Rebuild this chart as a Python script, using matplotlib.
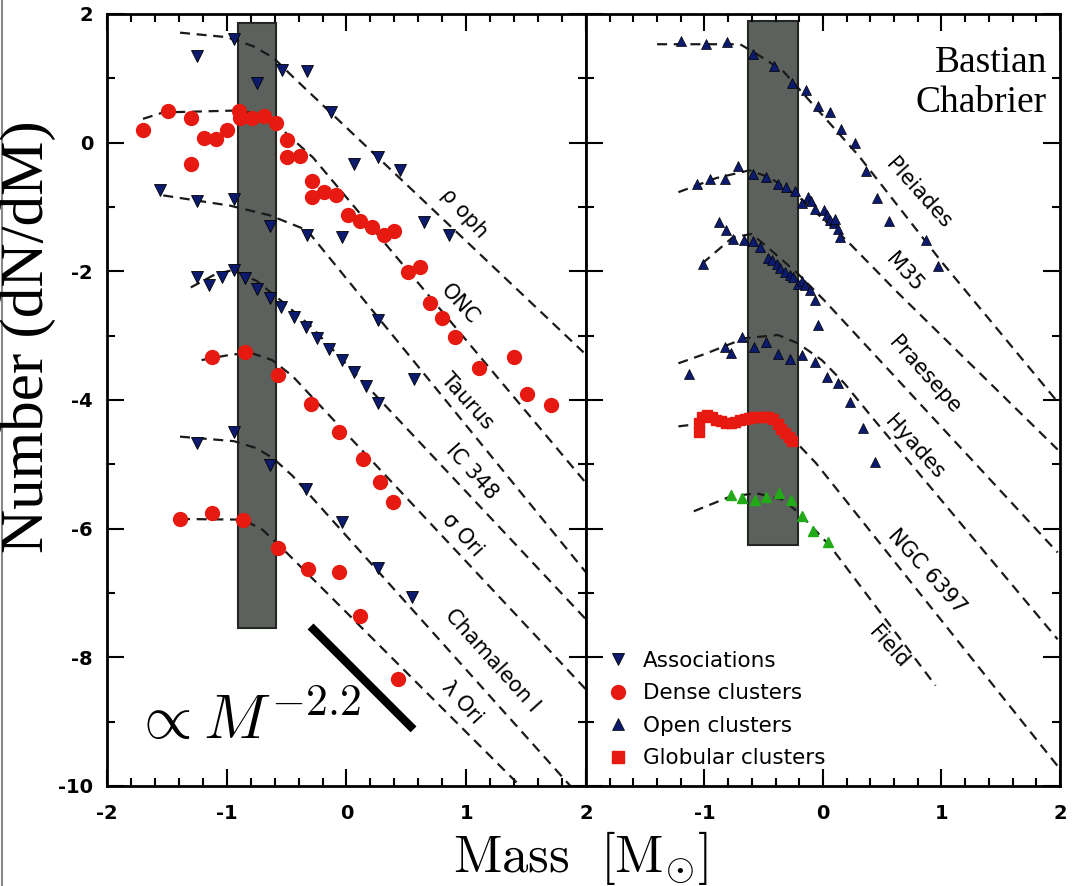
import matplotlib
matplotlib.use('Agg')
import matplotlib.pyplot as plt
from matplotlib.lines import Line2D
from matplotlib.ticker import MultipleLocator

plt.rcParams['mathtext.fontset'] = 'cm'
plt.rcParams['axes.unicode_minus'] = False
plt.rcParams['font.family'] = 'DejaVu Sans'

# ---- left panel: associations (down triangles) ----
rho_oph_x = [-1.25, -0.94, -0.75, -0.54, -0.33, -0.13, 0.06, 0.26, 0.45, 0.65, 0.86]
rho_oph_y = [1.35, 1.61, 0.93, 1.13, 1.12, 0.47, -0.33, -0.23, -0.43, -1.24, -1.44]
taurus_x = [-1.56, -1.25, -0.94, -0.64, -0.33, -0.04, 0.26, 0.56]
taurus_y = [-0.74, -0.90, -0.87, -1.30, -1.44, -1.47, -2.76, -3.67]
ic348_x = [-1.25, -1.15, -1.04, -0.94, -0.85, -0.75, -0.64, -0.55, -0.44, -0.34,
           -0.25, -0.15, -0.04, 0.06, 0.16, 0.26]
ic348_y = [-2.09, -2.22, -2.09, -1.98, -2.11, -2.27, -2.41, -2.56, -2.71, -2.86,
           -3.04, -3.20, -3.38, -3.56, -3.79, -4.05]
cha_x = [-1.25, -0.94, -0.64, -0.34, -0.04, 0.26, 0.55]
cha_y = [-4.67, -4.49, -5.01, -5.38, -5.89, -6.61, -7.07]

# ---- left panel: dense clusters (circles) ----
onc_x = [-1.70, -1.49, -1.30, -1.19, -1.09, -1.00, -1.30, -0.90, -0.89, -0.79, -0.69,
         -0.59, -0.50, -0.50, -0.39, -0.29, -0.29, -0.19, -0.09, 0.01, 0.11, 0.21,
         0.31, 0.40, 0.51, 0.61, 0.70, 0.80, 0.91, 1.11, 1.40, 1.51, 1.71]
onc_y = [0.20, 0.49, 0.38, 0.08, 0.06, 0.20, -0.33, 0.49, 0.39, 0.38, 0.42,
         0.31, 0.04, -0.23, -0.21, -0.60, -0.85, -0.77, -0.82, -1.13, -1.22, -1.31,
         -1.44, -1.37, -2.01, -1.93, -2.50, -2.73, -3.02, -3.51, -3.33, -3.90, -4.08]
sig_ori_x = [-1.12, -0.85, -0.57, -0.30, -0.06, 0.14, 0.28, 0.39]
sig_ori_y = [-3.33, -3.25, -3.61, -4.06, -4.49, -4.91, -5.27, -5.58]
lam_ori_x = [-1.39, -1.12, -0.86, -0.57, -0.32, -0.06, 0.11, 0.43]
lam_ori_y = [-5.85, -5.76, -5.86, -6.30, -6.62, -6.67, -7.36, -8.33]

# ---- left panel: fitted curves (dashed) ----
fit_left = {
    'rho_oph': ([-1.39, -1.0, -0.78, -0.61, -0.44, 1.98], [1.71, 1.64, 1.50, 1.32, 1.01, -3.26]),
    'onc': ([-1.70, -1.53, -0.91, -0.66, -0.50, -0.28, 2.0], [0.37, 0.47, 0.50, 0.42, 0.14, -0.23, -5.29]),
    'taurus': ([-1.53, -1.25, -0.97, -0.64, -0.33, 2.0], [-0.82, -0.90, -0.98, -1.13, -1.36, -6.68]),
    'ic348': ([-1.30, -1.10, -0.95, -0.75, -0.55, -0.30, 2.0], [-2.25, -2.05, -1.98, -2.15, -2.45, -2.85, -7.41]),
    'sig_ori': ([-1.21, -0.95, -0.78, -0.62, -0.45, 2.0], [-3.38, -3.29, -3.28, -3.38, -3.63, -8.5]),
    'cha': ([-1.39, -0.94, -0.75, -0.61, -0.45, 1.87], [-4.57, -4.64, -4.75, -4.91, -5.18, -10.0]),
    'lam_ori': ([-1.39, -0.86, -0.70, -0.55, 1.45], [-5.85, -5.86, -6.02, -6.28, -10.0]),
}
labels_left = ['ρ oph', 'ONC', 'Taurus', 'IC 348', 'σ Ori', 'Chamaleon I', 'λ Ori']
label_left_x = [0.98, 0.95, 1.01, 1.05, 0.97, 1.22, 0.97]
label_left_y = [-1.10, -2.51, -4.02, -5.12, -6.09, -8.05, -8.70]

# ---- right panel: open clusters (up triangles) ----
pleiades_x = [-1.20, -0.99, -0.81, -0.59, -0.41, -0.26, -0.14, -0.04, 0.06, 0.15, 0.27,
              0.36, 0.46, 0.56, 0.87, 0.97]
pleiades_y = [1.58, 1.54, 1.57, 1.38, 1.19, 0.93, 0.82, 0.57, 0.47, 0.21, 0.00,
              -0.44, -0.86, -1.21, -1.52, -1.91]
m35_x = [-1.06, -0.95, -0.83, -0.72, -0.59, -0.48, -0.38, -0.31, -0.24, -0.18, -0.13,
         -0.10, -0.07, 0.01, 0.03, 0.06, 0.09, 0.10, 0.13, 0.14]
m35_y = [-0.65, -0.56, -0.56, -0.36, -0.48, -0.53, -0.64, -0.69, -0.75, -0.94, -0.84,
         -0.90, -1.03, -1.05, -1.12, -1.20, -1.25, -1.18, -1.34, -1.47]
praesepe_x = [-1.01, -0.88, -0.82, -0.76, -0.67, -0.59, -0.53, -0.46, -0.43, -0.39, -0.36,
              -0.32, -0.28, -0.25, -0.21, -0.18, -0.15, -0.11, -0.07, -0.04]
praesepe_y = [-1.88, -1.24, -1.36, -1.50, -1.52, -1.53, -1.62, -1.80, -1.82, -1.88, -1.95,
              -2.01, -2.05, -2.09, -2.19, -2.15, -2.22, -2.29, -2.45, -2.84]
hyades_x = [-1.13, -0.83, -0.78, -0.68, -0.58, -0.48, -0.38, -0.28, -0.18, -0.07, 0.03,
            0.13, 0.23, 0.34, 0.44]
hyades_y = [-3.59, -3.17, -3.27, -3.02, -3.17, -3.10, -3.29, -3.37, -3.30, -3.41, -3.64,
            -3.74, -4.03, -4.44, -4.96]
# globular cluster NGC 6397 (squares) and field (green)
ngc_x = [-1.05, -1.05, -1.02, -0.98, -0.94, -0.90, -0.86, -0.82, -0.78, -0.74, -0.70, -0.66,
         -0.62, -0.58, -0.54, -0.50, -0.46, -0.42, -0.38, -0.35, -0.32, -0.29, -0.26]
ngc_y = [-4.49, -4.35, -4.26, -4.23, -4.27, -4.31, -4.33, -4.35, -4.35, -4.34, -4.31, -4.29,
         -4.28, -4.27, -4.26, -4.26, -4.27, -4.30, -4.38, -4.45, -4.52, -4.58, -4.64]
field_x = [-0.78, -0.68, -0.57, -0.48, -0.37, -0.27, -0.18, -0.08, 0.04]
field_y = [-5.47, -5.52, -5.55, -5.51, -5.44, -5.56, -5.81, -6.03, -6.20]

fit_right = {
    'pleiades': ([-1.40, -0.70, -0.56, -0.34, 0.30, 1.00, 1.98], [1.53, 1.53, 1.38, 1.12, -0.20, -1.85, -4.03]),
    'm35': ([-1.22, -0.90, -0.62, -0.45, -0.20, 0.20, 0.63, 1.98], [-0.77, -0.55, -0.43, -0.54, -0.85, -1.52, -2.33, -4.77]),
    'praesepe': ([-1.02, -0.76, -0.60, -0.44, -0.21, 0.01, 1.98], [-1.88, -1.47, -1.42, -1.67, -2.04, -2.45, -6.37]),
    'hyades': ([-1.22, -0.99, -0.66, -0.38, -0.21, -0.01, 0.18, 0.41, 1.98],
               [-3.43, -3.28, -3.04, -2.99, -3.12, -3.38, -3.74, -4.26, -7.72]),
    'ngc6397': ([-1.22, -0.76, -0.45, -0.22, -0.06, 1.98], [-4.41, -4.31, -4.28, -4.67, -4.98, -9.69]),
    'field': ([-1.09, -0.78, -0.56, -0.34, -0.20, 0.06, 0.95], [-5.73, -5.50, -5.45, -5.55, -5.76, -6.27, -8.44]),
}
labels_right = ['Pleiades', 'M35', 'Praesepe', 'Hyades', 'NGC 6397', 'Field']
label_right_x = [0.81, 0.69, 0.86, 0.77, 0.88, 0.55]
label_right_y = [-0.79, -2.02, -3.61, -4.73, -6.67, -7.84]

# grey bands (mass range), left / right panel: x0, x1, y0, y1
band_left = (-0.91, -0.59, -7.55, 1.86)
band_right = (-0.63, -0.21, -6.26, 1.89)
# reference slope segment
slope_x = [-0.30, 0.56]
slope_y = [-7.52, -9.12]

navy = '#0d1b6e'
red = '#e61a10'
green = '#22aa18'
dash = (0, (4.5, 3))

fig = plt.figure(figsize=(10.72, 8.86), dpi=100)
ax1 = fig.add_axes([0.0998, 0.1129, 0.4468, 0.8713])
ax2 = fig.add_axes([0.5466, 0.1129, 0.4422, 0.8713])

for ax, band in ((ax1, band_left), (ax2, band_right)):
    ax.bar(band[0], band[3] - band[2], width=band[1] - band[0], bottom=band[2], align='edge',
           color='#5c615d', edgecolor='#222722', linewidth=1.5, zorder=1)

for xs, ys in fit_left.values():
    ax1.plot(xs, ys, color='#1a1a1a', lw=1.6, ls=dash, zorder=2)
for xs, ys in fit_right.values():
    ax2.plot(xs, ys, color='#1a1a1a', lw=1.6, ls=dash, zorder=2)

tri_kw = dict(ls='none', marker='v', ms=9, mfc=navy, mec='black', mew=0.6, zorder=3)
for xs, ys in ((rho_oph_x, rho_oph_y), (taurus_x, taurus_y), (ic348_x, ic348_y), (cha_x, cha_y)):
    ax1.plot(xs, ys, **tri_kw)
dot_kw = dict(ls='none', marker='o', ms=10, mfc=red, mec=red, zorder=3)
for xs, ys in ((onc_x, onc_y), (sig_ori_x, sig_ori_y), (lam_ori_x, lam_ori_y)):
    ax1.plot(xs, ys, **dot_kw)

up_kw = dict(ls='none', marker='^', ms=7.5, mfc=navy, mec='black', mew=0.5, zorder=3)
for xs, ys in ((pleiades_x, pleiades_y), (m35_x, m35_y), (praesepe_x, praesepe_y), (hyades_x, hyades_y)):
    ax2.plot(xs, ys, **up_kw)
ax2.plot(ngc_x, ngc_y, ls='none', marker='s', ms=7, mfc=red, mec=red, zorder=3)
ax2.plot(field_x, field_y, ls='none', marker='^', ms=7.5, mfc=green, mec=green, zorder=3)

for t, x, y in zip(labels_left, label_left_x, label_left_y):
    ax1.text(x, y, t, rotation=-48, rotation_mode='anchor', ha='center', va='center', fontsize=15)
for t, x, y in zip(labels_right, label_right_x, label_right_y):
    ax2.text(x, y, t, rotation=-48, rotation_mode='anchor', ha='center', va='center', fontsize=15)

ax1.plot(slope_x, slope_y, color='black', lw=6, solid_capstyle='butt', zorder=4)
ax1.text(-1.78, -9.27, r'$\propto M^{-2.2}$', fontsize=45, ha='left', va='baseline', zorder=5)

ax2.text(1.89, 1.10, 'Bastian', family='Liberation Serif', fontsize=27, ha='right', va='baseline')
ax2.text(1.89, 0.47, 'Chabrier', family='Liberation Serif', fontsize=27, ha='right', va='baseline')

handles = [
    Line2D([], [], ls='none', marker='v', ms=9, mfc=navy, mec='black', mew=0.6),
    Line2D([], [], ls='none', marker='o', ms=10, mfc=red, mec=red),
    Line2D([], [], ls='none', marker='^', ms=8, mfc=navy, mec='black', mew=0.5),
    Line2D([], [], ls='none', marker='s', ms=9, mfc=red, mec=red),
]
ax2.legend(handles, ['Associations', 'Dense clusters', 'Open clusters', 'Globular clusters'],
           loc='lower left', bbox_to_anchor=(0.03, 0.012), frameon=False, fontsize=15.5,
           handletextpad=0.7, labelspacing=0.58, handlelength=0.9, borderaxespad=0)

for ax in (ax1, ax2):
    ax.set_xlim(-2, 2)
    ax.set_ylim(-10, 2)
    ax.set_xticks([-2, -1, 0, 1, 2])
    ax.set_yticks([-10, -8, -6, -4, -2, 0, 2])
    ax.xaxis.set_minor_locator(MultipleLocator(0.2))
    ax.yaxis.set_minor_locator(MultipleLocator(1))
    ax.tick_params(which='both', direction='in', top=True, right=True, width=1.5)
    ax.tick_params(which='major', length=12, labelsize=14, pad=10)
    ax.tick_params(axis='x', which='major', pad=13)
    ax.tick_params(which='minor', length=6)
    for s in ax.spines.values():
        s.set_linewidth(2)
    for lab in ax.get_xticklabels() + ax.get_yticklabels():
        lab.set_fontweight('bold')

ax2.set_xticklabels(['', '-1', '0', '1', '2'], fontweight='bold')
ax2.set_yticklabels([])

fig.text(28 / 1072, 1 - 337 / 886, 'Number (dN/dM)', rotation=90, ha='center', va='center',
         family='Liberation Serif', fontsize=44)
fig.text(580 / 1072, 1 - 858 / 886, r'$\mathrm{Mass}\ \ [\mathrm{M}_{\odot}]$', ha='center', va='center',
         fontsize=38)
fig.add_artist(Line2D([0.002, 0.002], [0, 1], color='#888888', lw=1.5))

fig.savefig('out.png', dpi=100)
